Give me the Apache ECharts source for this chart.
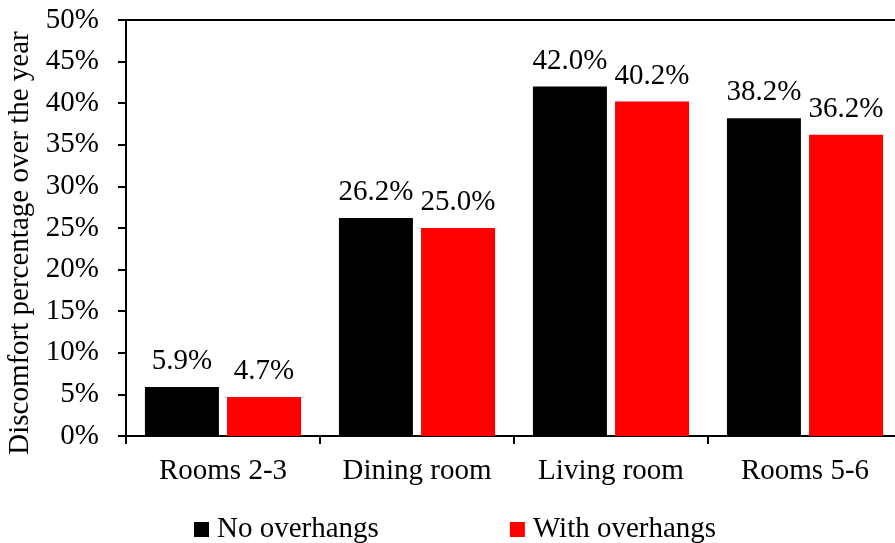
<!DOCTYPE html>
<html>
<head>
<meta charset="utf-8">
<script src="https://cdn.jsdelivr.net/npm/echarts@6/dist/echarts.min.js"></script>
<style>
  html, body { margin: 0; padding: 0; background: #fff; }
  #chart { width: 895px; height: 543px; }
</style>
</head>
<body>
<div id="chart"></div>
<script>
// 数据
var rooms = ["Rooms 2-3", "Dining room", "Living room", "Rooms 5-6"];
var noOverhangs = [5.9, 26.2, 42.0, 38.2];
var withOverhangs = [4.7, 25.0, 40.2, 36.2];
var seriesNames = ["No overhangs", "With overhangs"];

var font = "'Liberation Serif', 'Times New Roman', serif";
var fs = 29;

var myChart = echarts.init(document.getElementById("chart"));

function barLabel() {
  return {
    show: true,
    position: "top",
    distance: 11,
    color: "#000",
    fontFamily: font,
    fontSize: fs,
    formatter: function (p) { return p.value.toFixed(1) + "%"; }
  };
}

var option = {
  animation: false,
  backgroundColor: "#fff",
  grid: { left: 126, top: 20, width: 776, bottom: 107, outerBoundsMode: "none", containLabel: false },
  legend: {
    left: 189,
    top: 510,
    itemWidth: 15,
    itemHeight: 15,
    itemGap: 131,
    icon: "rect",
    textStyle: { color: "#000", fontFamily: font, fontSize: fs, padding: [0, 0, 0, 3] },
    data: seriesNames
  },
  xAxis: [
    {
      type: "category",
      data: rooms,
      axisLine: { lineStyle: { color: "#000", width: 2 } },
      axisTick: { show: true, length: 8, lineStyle: { color: "#000", width: 2 } },
      axisLabel: { color: "#000", fontFamily: font, fontSize: fs, margin: 21 }
    },
    {
      // 上边框线
      type: "category",
      position: "top",
      data: rooms,
      axisLine: { show: true, lineStyle: { color: "#000", width: 2 } },
      axisTick: { show: false },
      axisLabel: { show: false }
    }
  ],
  yAxis: {
    type: "value",
    min: 0,
    max: 50,
    interval: 5,
    name: "Discomfort percentage over the year",
    nameLocation: "middle",
    nameGap: 84,
    nameTextStyle: { color: "#000", fontFamily: font, fontSize: 29, padding: [0, 30, 0, 0] },
    axisLine: { show: true, lineStyle: { color: "#000", width: 2 } },
    axisTick: { show: true, length: 8, lineStyle: { color: "#000", width: 2 } },
    splitLine: { show: false },
    axisLabel: {
      color: "#000",
      fontFamily: font,
      fontSize: fs,
      margin: 27,
      formatter: "{value}%"
    }
  },
  series: [
    {
      name: seriesNames[0],
      type: "bar",
      data: noOverhangs,
      barWidth: 74,
      barGap: "11%",
      itemStyle: { color: "#000" },
      label: barLabel()
    },
    {
      name: seriesNames[1],
      type: "bar",
      data: withOverhangs,
      barWidth: 74,
      barGap: "11%",
      itemStyle: { color: "#ff0000" },
      label: barLabel()
    }
  ]
};

myChart.setOption(option);
</script>
</body>
</html>
